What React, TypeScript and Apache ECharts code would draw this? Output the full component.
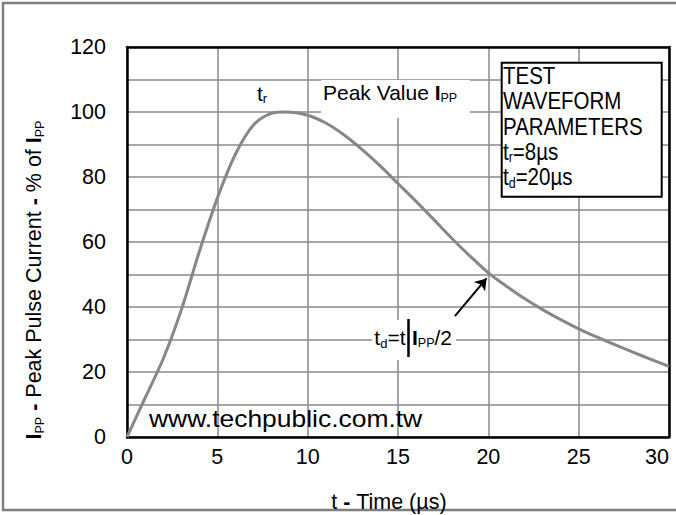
import React, { useEffect, useRef } from "react";
import * as echarts from "echarts";

// ---- data ----
const timeUs = [0, 1, 2, 3, 4, 5, 6, 7, 8, 8.8, 10, 11, 12, 13, 14, 15, 16, 17, 18, 19, 20, 21, 22, 23, 24, 25, 26, 27, 28, 29, 30];
const currentPct = [0, 12, 24, 39, 57, 73.5, 87, 96, 99.6, 100, 99, 96.6, 93, 88.5, 83.5, 78, 72.5, 66.8, 61, 55.6, 50.5, 46.4, 42.6, 39.2, 36.1, 33.3, 30.8, 28.4, 26.1, 23.9, 21.7];
const yTickLabels = [0, 20, 40, 60, 80, 100, 120];
const xTickLabels = [0, 5, 10, 15, 20, 25, 30];
const arrowFrom = [18.15, 37.2];
const arrowTo = [19.9, 48.8];
const boxLines = ["TEST", "WAVEFORM", "PARAMETERS", "{t|t}{s|r}{t|=8µs}", "{t|t}{s|d}{t|=20µs}"];

const SANS = "'Liberation Sans', Arial, Helvetica, sans-serif";
const GRID_COLOR = "#8a8a8a";

export default function App() {
  const ref = useRef<HTMLDivElement | null>(null);

  useEffect(() => {
    if (!ref.current) return;
    const chart = echarts.init(ref.current, null, { renderer: "svg" });

    const frameAxis = { show: true, onZero: false, lineStyle: { color: "#000", width: 2.5 } };

    const option: any = {
      animation: false,
      backgroundColor: "#fff",
      textStyle: { fontFamily: SANS },
      grid: { left: 127, right: 7, top: 47, bottom: 78, containLabel: false, outerBoundsMode: "none" },
      xAxis: [
        {
          type: "value",
          min: 0,
          max: 30,
          interval: 5,
          axisLine: frameAxis,
          axisTick: { show: false },
          splitLine: { show: true, lineStyle: { color: GRID_COLOR, width: 1.5 } },
          axisLabel: {
            color: "#000",
            fontSize: 21.5,
            fontFamily: SANS,
            margin: 9,
            alignMaxLabel: "right",
            formatter: (v: number) => (xTickLabels.includes(v) ? String(v) : ""),
          },
        },
        {
          type: "value",
          position: "top",
          min: 0,
          max: 30,
          interval: 5,
          axisLine: frameAxis,
          axisTick: { show: false },
          axisLabel: { show: false },
          splitLine: { show: false },
        },
      ],
      yAxis: [
        {
          type: "value",
          min: 0,
          max: 120,
          interval: 10,
          axisLine: frameAxis,
          axisTick: { show: false },
          splitLine: { show: true, lineStyle: { color: GRID_COLOR, width: 1.5 } },
          axisLabel: {
            color: "#000",
            fontSize: 21.5,
            fontFamily: SANS,
            margin: 21,
            formatter: (v: number) => (yTickLabels.includes(v) ? String(v) : ""),
          },
        },
        {
          type: "value",
          position: "right",
          min: 0,
          max: 120,
          interval: 10,
          axisLine: frameAxis,
          axisTick: { show: false },
          axisLabel: { show: false },
          splitLine: { show: false },
        },
      ],
      series: [
        {
          type: "line",
          xAxisIndex: 0,
          yAxisIndex: 0,
          data: timeUs.map((t, i) => [t, currentPct[i]]),
          showSymbol: false,
          symbol: "none",
          smooth: 0.3,
          lineStyle: { color: "#878787", width: 3 },
          silent: true,
          markLine: {
            silent: true,
            animation: false,
            symbol: ["none", "arrow"],
            symbolSize: 11,
            label: { show: false },
            lineStyle: { color: "#000", width: 2, type: "solid" },
            emphasis: { disabled: true },
            data: [[{ coord: arrowFrom }, { coord: arrowTo }]],
          },
        },
      ],
      graphic: [
        {
          type: "rect",
          silent: true,
          z: 1,
          shape: { x: 3, y: 3, width: 720, height: 507 },
          style: { fill: "none", stroke: "#7f7f7f", lineWidth: 2.5 },
        },
        // Peak value label
        {
          type: "rect",
          silent: true,
          z: 5,
          shape: { x: 321, y: 80, width: 149, height: 38 },
          style: { fill: "#fff" },
        },
        {
          type: "text",
          silent: true,
          z: 6,
          x: 323,
          y: 92.7,
          style: {
            text: "{n|Peak Value }{b|I}{p|PP}",
            align: "left",
            verticalAlign: "middle",
            fill: "#000",
            rich: {
              n: { fontFamily: SANS, fontSize: 21, lineHeight: 24, fill: "#000" },
              b: { fontFamily: SANS, fontSize: 21, lineHeight: 24, fontWeight: "bold", fill: "#000" },
              p: { fontFamily: SANS, fontSize: 12.5, lineHeight: 18.1, verticalAlign: "bottom", fill: "#000" },
            },
          },
        },
        // t_r label
        {
          type: "text",
          silent: true,
          z: 6,
          x: 262,
          y: 93.4,
          style: {
            text: "{n|t}{s|r}",
            align: "center",
            verticalAlign: "middle",
            rich: {
              n: { fontFamily: SANS, fontSize: 21, lineHeight: 24, fill: "#000" },
              s: { fontFamily: SANS, fontSize: 13, lineHeight: 14.5, verticalAlign: "bottom", fill: "#000" },
            },
          },
        },
        // Test waveform box
        {
          type: "rect",
          silent: true,
          z: 5,
          shape: { x: 501.7, y: 62.7, width: 160, height: 134 },
          style: { fill: "#fff", stroke: "#000", lineWidth: 2 },
        },
        {
          type: "text",
          silent: true,
          z: 6,
          x: 503,
          y: 63,
          scaleY: 1.13,
          style: {
            text: boxLines.join("\n"),
            align: "left",
            verticalAlign: "top",
            fontFamily: SANS,
            fontSize: 20.5,
            lineHeight: 22.5,
            fill: "#000",
            rich: {
              t: { fontFamily: SANS, fontSize: 20.5, lineHeight: 22.5, fill: "#000" },
              s: { fontFamily: SANS, fontSize: 12.5, lineHeight: 14, verticalAlign: "bottom", fill: "#000" },
            },
          },
        },
        // t_d label
        {
          type: "rect",
          silent: true,
          z: 5,
          shape: { x: 372, y: 320, width: 84, height: 40 },
          style: { fill: "#fff" },
        },
        {
          type: "text",
          silent: true,
          z: 6,
          x: 405.5,
          y: 337.7,
          style: {
            text: "{n|t}{s|d}{n|=t}",
            align: "right",
            verticalAlign: "middle",
            rich: {
              n: { fontFamily: SANS, fontSize: 21, lineHeight: 24, fill: "#000" },
              s: { fontFamily: SANS, fontSize: 13, lineHeight: 14.5, verticalAlign: "bottom", fill: "#000" },
            },
          },
        },
        {
          type: "line",
          silent: true,
          z: 6,
          shape: { x1: 408.5, y1: 319, x2: 408.5, y2: 357 },
          style: { stroke: "#000", lineWidth: 2.5 },
        },
        {
          type: "text",
          silent: true,
          z: 6,
          x: 412,
          y: 337.7,
          style: {
            text: "{b|I}{p|PP}{n|/2}",
            align: "left",
            verticalAlign: "middle",
            rich: {
              n: { fontFamily: SANS, fontSize: 21, lineHeight: 24, fill: "#000" },
              b: { fontFamily: SANS, fontSize: 21, lineHeight: 24, fontWeight: "bold", fill: "#000" },
              p: { fontFamily: SANS, fontSize: 12.5, lineHeight: 18.1, verticalAlign: "bottom", fill: "#000" },
            },
          },
        },
        // URL
        {
          type: "text",
          silent: true,
          z: 6,
          x: 149,
          y: 419,
          scaleX: 1.15,
          style: {
            text: "www.techpublic.com.tw",
            align: "left",
            verticalAlign: "middle",
            fontFamily: SANS,
            fontSize: 23,
            fill: "#000",
          },
        },
        // x axis title
        {
          type: "text",
          silent: true,
          z: 6,
          x: 389,
          y: 501.5,
          style: {
            text: "{n|t }{b|-}{n| Time (µs)}",
            align: "center",
            verticalAlign: "middle",
            rich: {
              n: { fontFamily: SANS, fontSize: 21.5, lineHeight: 24, fill: "#000" },
              b: { fontFamily: SANS, fontSize: 21.5, lineHeight: 24, fontWeight: "bold", fill: "#000" },
            },
          },
        },
        // y axis title
        {
          type: "text",
          silent: true,
          z: 6,
          x: 34,
          y: 280,
          rotation: Math.PI / 2,
          style: {
            text: "{b|I}{p|PP}{n| }{b|-}{n| Peak Pulse Current }{b|-}{n| % of }{b|I}{p|PP}",
            align: "center",
            verticalAlign: "middle",
            rich: {
              n: { fontFamily: SANS, fontSize: 21.5, lineHeight: 24, fill: "#000" },
              b: { fontFamily: SANS, fontSize: 21.5, lineHeight: 24, fontWeight: "bold", fill: "#000" },
              p: { fontFamily: SANS, fontSize: 12.5, lineHeight: 17.8, verticalAlign: "bottom", fill: "#000" },
            },
          },
        },
      ],
    };

    chart.setOption(option);
    return () => chart.dispose();
  }, []);

  return (
    <div
      ref={ref}
      style={{ position: "fixed", left: 0, top: 0, width: 676, height: 515, background: "#fff" }}
    />
  );
}
